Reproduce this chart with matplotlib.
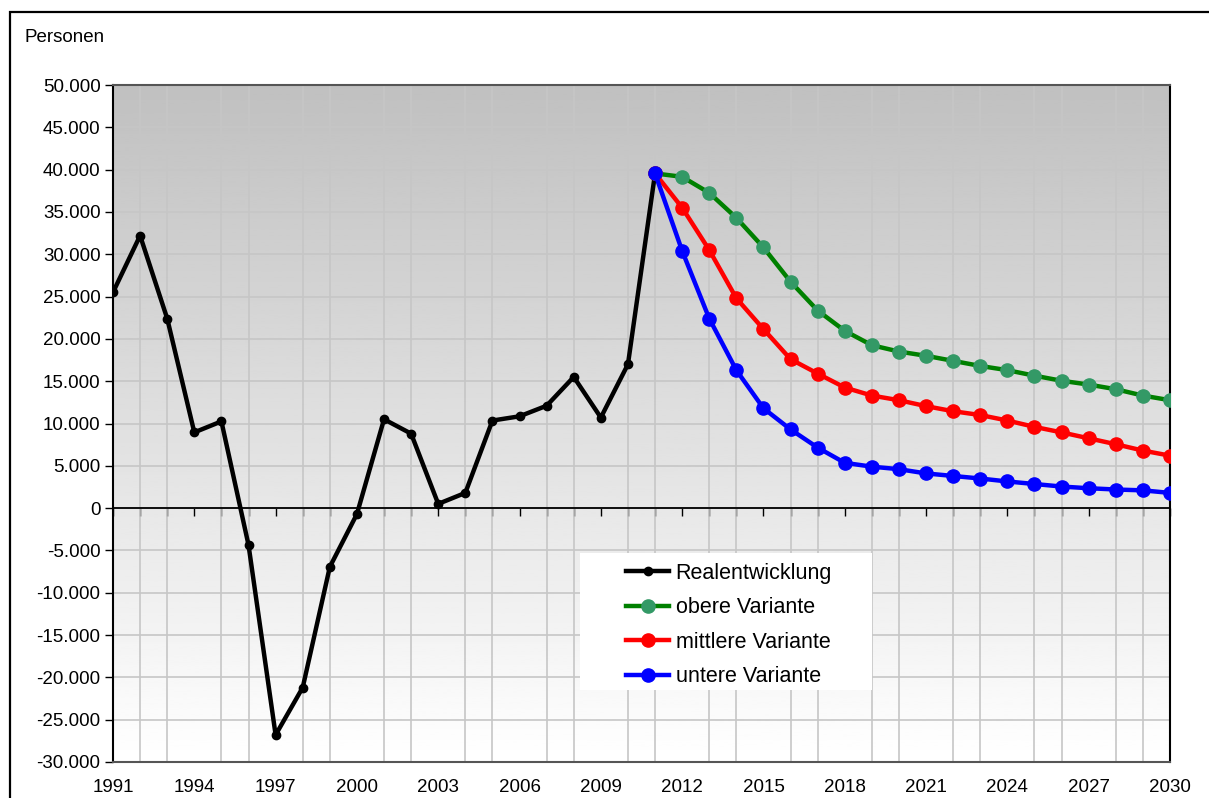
import matplotlib
matplotlib.use("Agg")
import matplotlib.pyplot as plt
import numpy as np
from matplotlib.patches import Rectangle
from matplotlib.ticker import FuncFormatter, MultipleLocator

plt.rcParams.update({
    "font.family": ["Liberation Sans", "DejaVu Sans"],
    "font.size": 13.5,
})

# Wanderungssaldo, Personen
years_real = list(range(1991, 2012))
real = [25500, 32200, 22400, 8950, 10250, -4350, -26800, -21200, -6950, -700,
        10500, 8800, 500, 1800, 10350, 10850, 12100, 15500, 10700, 17000, 39550]

years_proj = list(range(2011, 2031))
obere = [39550, 39150, 37250, 34300, 30800, 26750, 23350, 20950, 19250, 18500,
         18000, 17400, 16800, 16300, 15650, 15050, 14600, 14050, 13300, 12750]
mittlere = [39550, 35500, 30500, 24800, 21150, 17600, 15900, 14250, 13300, 12750,
            12050, 11450, 11000, 10350, 9600, 8950, 8250, 7550, 6800, 6200]
untere = [39550, 30400, 22400, 16300, 11800, 9300, 7150, 5350, 4900, 4600,
          4100, 3800, 3500, 3150, 2850, 2550, 2350, 2200, 2100, 1800]

W, H = 1209, 798
fig = plt.figure(figsize=(W / 100, H / 100), dpi=100)
ax = fig.add_axes([113 / W, 1 - 762 / H, (1170 - 113) / W, (762 - 85) / H])

# grey-to-white background gradient
grad = np.linspace(0.753, 1.0, 256).reshape(-1, 1)
ax.imshow(grad, cmap="gray", vmin=0, vmax=1, aspect="auto", origin="upper",
          extent=[1991, 2030, -30000, 50000], zorder=-1)

ax.set_xlim(1991, 2030)
ax.set_ylim(-30000, 50000)

ax.plot(years_real, real, color="black", lw=3.2, marker="o", ms=6,
        label="Realentwicklung", zorder=3)
ax.plot(years_proj, obere, color="#008000", lw=3.2, marker="o", ms=9.5,
        mfc="#339966", mec="#339966", label="obere Variante", zorder=3)
ax.plot(years_proj, mittlere, color="#ff0000", lw=3.2, marker="o", ms=9.5,
        label="mittlere Variante", zorder=3)
ax.plot(years_proj, untere, color="#0000ff", lw=3.2, marker="o", ms=9.5,
        label="untere Variante", zorder=3)

# grid
ax.set_xticks(range(1991, 2031), minor=True)
ax.grid(which="minor", axis="x", color="#c6c6c6", lw=1.2)
ax.yaxis.set_major_locator(MultipleLocator(5000))
ax.grid(which="major", axis="y", color="#c6c6c6", lw=1.2)
ax.set_axisbelow(True)

ax.set_xticks(range(1991, 2031, 3))
ax.tick_params(axis="x", which="both", length=0, pad=12)
ax.tick_params(axis="y", length=6, width=1, direction="out", pad=3)
ax.yaxis.set_major_formatter(FuncFormatter(lambda v, p: f"{v:,.0f}".replace(",", ".")))

# zero line with yearly tick marks
ax.axhline(0, color="black", lw=1.3, zorder=2)
sec = ax.secondary_xaxis(30000 / 80000)
sec.spines["bottom"].set_visible(False)
sec.set_xticks(range(1991, 2031))
sec.set_xticklabels([])
sec.tick_params(length=6, width=1, direction="out", color="black")

for side in ["left", "right"]:
    ax.spines[side].set_color("black")
    ax.spines[side].set_linewidth(1.5)
for side in ["top", "bottom"]:
    ax.spines[side].set_color("#555555")
    ax.spines[side].set_linewidth(1.5)

# white legend background
ax.add_patch(Rectangle(((580 - 113) / 1057, (762 - 690) / 677), 292 / 1057, 137 / 677,
                       transform=ax.transAxes, facecolor="white", edgecolor="none", zorder=4))
leg = ax.legend(loc="upper left", bbox_to_anchor=(626 / W, 1 - 563 / H),
                bbox_transform=fig.transFigure, frameon=False, fontsize=15.5,
                handlelength=2.0, handletextpad=0.3, labelspacing=0.62,
                borderpad=0, borderaxespad=0)
leg.set_zorder(5)

fig.text(25 / W, 1 - 37 / H, "Personen", fontsize=13.5, va="center", ha="left")

# outer chart frame
fig.patches.append(Rectangle((10 / W, -0.1), 1.2, 1.1 - 12 / H, transform=fig.transFigure,
                             fill=False, edgecolor="black", lw=1.6))

fig.savefig("out.png", dpi=100, facecolor="white")
